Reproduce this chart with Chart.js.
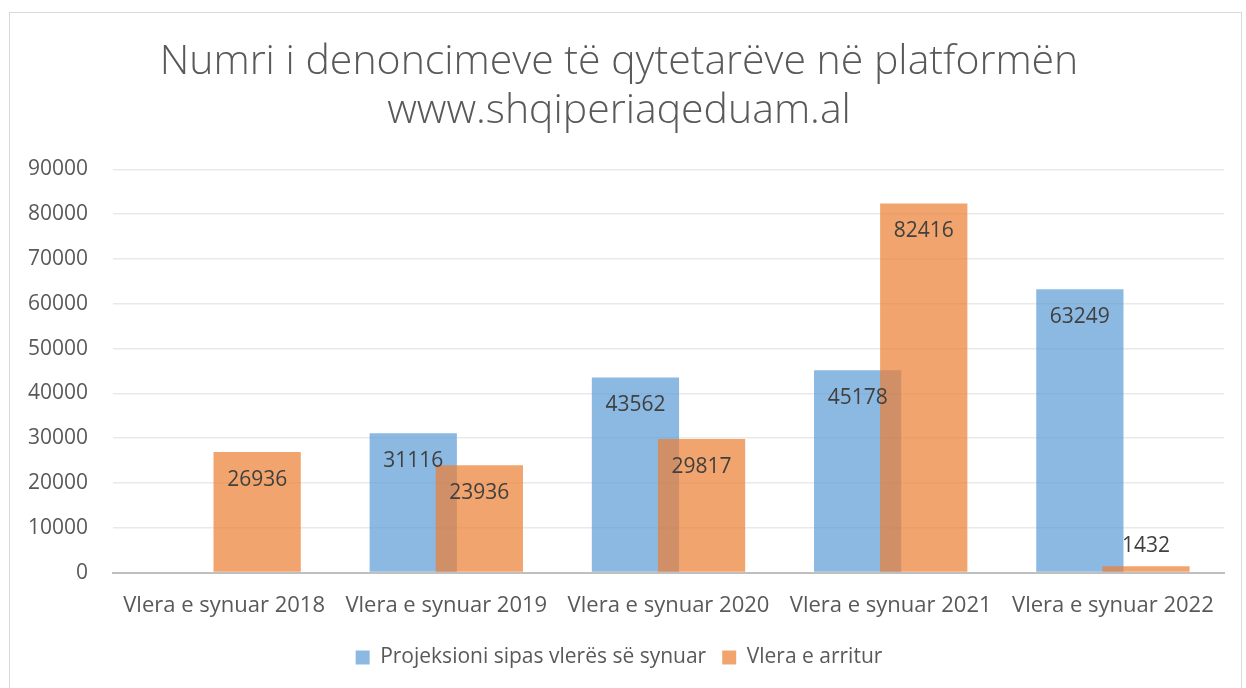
<!DOCTYPE html>
<html>
<head>
<meta charset="utf-8">
<script src="https://cdn.jsdelivr.net/npm/chart.js@4.4.1/dist/chart.umd.min.js"></script>
<style>
  html, body { margin: 0; padding: 0; background: #fff; }
  #wrap { position: relative; width: 1246px; height: 688px; }
  #frame { position: absolute; left: 9px; top: 12px; width: 1231px; height: 690px; border: 1px solid #d9d9d9; pointer-events: none; }
</style>
</head>
<body>
<div id="wrap">
  <canvas id="chart" width="1246" height="688"></canvas>
  <div id="frame"></div>
</div>
<script>
// Chart data
const categories = ['Vlera e synuar 2018', 'Vlera e synuar 2019', 'Vlera e synuar 2020', 'Vlera e synuar 2021', 'Vlera e synuar 2022'];
const projected = [null, 31116, 43562, 45178, 63249];
const achieved = [26936, 23936, 29817, 82416, 1432];
const seriesNames = ['Projeksioni sipas vlerës së synuar', 'Vlera e arritur'];
const titleLines = ['Numri i denoncimeve të qytetarëve në platformën', 'www.shqiperiaqeduam.al'];

const textColor = '#595959';
const font = "'Open Sans', 'Liberation Sans', sans-serif";
const TOP_DATASET = 1; // orange bars sit over the blue ones

// Draw the orange series last so it overlaps the blue one
const layering = {
  id: 'layering',
  beforeDatasetDraw(chart, args) {
    if (args.index === TOP_DATASET && !chart.$drawingTop) return false;
  },
  afterDatasetsDraw(chart) {
    chart.$drawingTop = true;
    chart.getDatasetMeta(TOP_DATASET).controller.draw();
    chart.$drawingTop = false;
  }
};

// Data labels near the top inside each bar (above it when the bar is too short)
const barLabels = {
  id: 'barLabels',
  afterDatasetsDraw(chart) {
    const ctx = chart.ctx;
    ctx.save();
    ctx.font = `21px ${font}`;
    ctx.fillStyle = '#404040';
    ctx.textAlign = 'center';
    ctx.textBaseline = 'middle';
    chart.data.datasets.forEach((ds, i) => {
      const meta = chart.getDatasetMeta(i);
      meta.data.forEach((bar, j) => {
        const v = ds.data[j];
        if (v == null) return;
        const h = bar.base - bar.y;
        const y = h < 45 ? bar.y - 20 : bar.y + 28;
        ctx.fillText(String(v), bar.x, y);
      });
    });
    ctx.restore();
  }
};

const chart = new Chart(document.getElementById('chart'), {
  type: 'bar',
  data: {
    labels: categories,
    datasets: [
      {
        label: seriesNames[0],
        data: projected,
        backgroundColor: 'rgba(91, 155, 213, 0.7)',
        categoryPercentage: 0.595,
        barPercentage: 1.32
      },
      {
        label: seriesNames[1],
        data: achieved,
        backgroundColor: 'rgba(237, 125, 49, 0.7)',
        categoryPercentage: 0.595,
        barPercentage: 1.32
      }
    ]
  },
  options: {
    responsive: false,
    animation: false,
    layout: { padding: { left: 14, right: 22, top: 22, bottom: 10 } },
    plugins: {
      title: {
        display: true,
        text: titleLines,
        color: textColor,
        font: { family: font, size: 41, weight: 300, lineHeight: 1.2 },
        padding: { top: 16, bottom: 33 }
      },
      legend: {
        position: 'bottom',
        labels: {
          color: textColor,
          font: { family: font, size: 21 },
          boxWidth: 14,
          boxHeight: 14,
          padding: 16
        }
      },
      tooltip: { enabled: false }
    },
    scales: {
      x: {
        grid: { display: false },
        border: { color: '#bfbfbf', width: 2 },
        ticks: { color: textColor, font: { family: font, size: 22 }, padding: 12, maxRotation: 0 }
      },
      y: {
        min: 0,
        max: 90000,
        ticks: {
          stepSize: 10000,
          color: textColor,
          font: { family: font, size: 21 },
          padding: 25,
          callback: v => String(v)
        },
        grid: { color: '#e9e9e9', lineWidth: 1.5, drawTicks: false },
        border: { display: false },
        afterFit(scale) { scale.width = 99; }
      }
    }
  },
  plugins: [layering, barLabels]
});
</script>
</body>
</html>
